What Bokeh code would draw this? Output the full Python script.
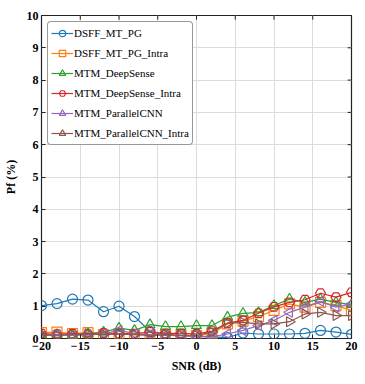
import numpy as np
from bokeh.plotting import figure
from bokeh.models import Legend, LegendItem, Range1d, FixedTicker
from bokeh.embed import file_html
from bokeh.resources import INLINE

snr = [-20, -18, -16, -14, -12, -10, -8, -6, -4, -2, 0, 2, 4, 6, 8, 10, 12, 14, 16, 18, 20]

dsff_mt_pg = [1.02, 1.08, 1.22, 1.19, 0.83, 1.0, 0.68, 0.22, 0.1, 0.1, 0.08, 0.05, 0.03, 0.17, 0.14, 0.14, 0.14, 0.16, 0.25, 0.2, 0.13]
dsff_mt_pg_intra = [0.18, 0.2, 0.15, 0.18, 0.12, 0.15, 0.12, 0.1, 0.12, 0.1, 0.1, 0.15, 0.45, 0.54, 0.68, 0.87, 1.07, 0.97, 1.12, 1.02, 0.87]
mtm_deepsense = [0.1, 0.12, 0.1, 0.15, 0.2, 0.32, 0.25, 0.43, 0.37, 0.37, 0.4, 0.4, 0.66, 0.78, 0.8, 1.02, 1.22, 1.12, 1.22, 1.12, 1.05]
mtm_deepsense_intra = [0.15, 0.13, 0.15, 0.13, 0.17, 0.15, 0.15, 0.2, 0.16, 0.16, 0.14, 0.23, 0.48, 0.56, 0.78, 0.98, 1.12, 1.2, 1.4, 1.28, 1.43]
mtm_parallelcnn = [0.08, 0.12, 0.1, 0.1, 0.15, 0.25, 0.15, 0.12, 0.1, 0.08, 0.06, 0.05, 0.14, 0.25, 0.4, 0.56, 0.81, 0.97, 1.15, 0.97, 1.07]
mtm_parallelcnn_intra = [0.12, 0.1, 0.12, 0.15, 0.12, 0.14, 0.12, 0.1, 0.12, 0.1, 0.1, 0.2, 0.47, 0.5, 0.45, 0.45, 0.52, 0.76, 0.81, 0.71, 0.71]

x_ticks = [-20, -15, -10, -5, 0, 5, 10, 15, 20]
y_ticks = [0, 1, 2, 3, 4, 5, 6, 7, 8, 9, 10]

series = [
    ("DSFF_MT_PG", dsff_mt_pg, "#1f77b4", "circle", 0.0),
    ("DSFF_MT_PG_Intra", dsff_mt_pg_intra, "#ff7f0e", "square", 0.0),
    ("MTM_DeepSense", mtm_deepsense, "#2ca02c", "triangle", 0.0),
    ("MTM_DeepSense_Intra", mtm_deepsense_intra, "#d62728", "hex", 0.0),
    ("MTM_ParallelCNN", mtm_parallelcnn, "#9467bd", "triangle", np.pi / 2),
    ("MTM_ParallelCNN_Intra", mtm_parallelcnn_intra, "#8c564b", "triangle", -np.pi / 2),
]

FONT = "Liberation Serif"
X0, X1, Y0, Y1 = -20, 20, 0, 10

p = figure(width=365, height=384, output_backend="svg", toolbar_location=None,
           x_range=Range1d(X0, X1), y_range=Range1d(Y0, Y1),
           min_border_left=37, min_border_right=14, min_border_top=15, min_border_bottom=46)

p.outline_line_color = "#222222"
p.outline_line_width = 1.2
p.background_fill_color = "white"

xt = FixedTicker(ticks=x_ticks)
yt = FixedTicker(ticks=y_ticks)
p.xaxis.ticker = xt
p.yaxis.ticker = yt
p.xgrid.ticker = xt
p.ygrid.ticker = yt
p.grid.grid_line_color = "#dcdcdc"
p.grid.grid_line_width = 1

# inward ticks on the top and right edges of the box
tick_len_y = 0.13
tick_len_x = 0.5
p.segment(x0=x_ticks, y0=[Y1] * len(x_ticks), x1=x_ticks, y1=[Y1 - tick_len_y] * len(x_ticks),
          line_color="#222222", line_width=1)
p.segment(x0=[X1] * len(y_ticks), y0=y_ticks, x1=[X1 - tick_len_x] * len(y_ticks), y1=y_ticks,
          line_color="#222222", line_width=1)

items = []
for name, ys, col, mk, ang in series:
    r1 = p.line(snr, ys, line_color=col, line_width=1.2)
    r2 = p.scatter(snr, ys, marker=mk, size=10, angle=ang, line_color=col,
                   fill_color=None, line_width=1.2)
    items.append(LegendItem(label=name, renderers=[r1, r2]))

for ax in [p.xaxis[0], p.yaxis[0]]:
    ax.major_label_text_font = FONT
    ax.major_label_text_font_style = "bold"
    ax.major_label_text_font_size = "12px"
    ax.major_label_text_color = "black"
    ax.axis_label_text_font = FONT
    ax.axis_label_text_font_style = "bold"
    ax.axis_label_text_font_size = "12px"
    ax.axis_label_text_color = "black"
    ax.axis_line_color = None
    ax.major_tick_out = 0
    ax.major_tick_in = 4
    ax.major_tick_line_color = "#222222"
    ax.minor_tick_line_color = None
    ax.major_label_standoff = 3

p.xaxis.axis_label = "SNR (dB)"
p.yaxis.axis_label = "Pf (%)"
p.xaxis.axis_label_standoff = 6
p.yaxis.axis_label_standoff = 6
p.xaxis.major_label_overrides = {-20: "\u221220", -15: "\u221215", -10: "\u221210", -5: "\u22125"}

leg = Legend(items=items, location="top_left")
leg.label_text_font = FONT
leg.label_text_font_size = "11px"
leg.label_text_color = "black"
leg.label_height = 14
leg.glyph_width = 22
leg.glyph_height = 16
leg.spacing = 4
leg.padding = 3
leg.margin = 6
leg.label_standoff = 1
leg.border_line_color = "#333333"
leg.border_line_width = 1
leg.border_radius = 4
leg.background_fill_alpha = 1
p.add_layout(leg, "center")

open("out.html", "w").write(file_html(p, INLINE))
